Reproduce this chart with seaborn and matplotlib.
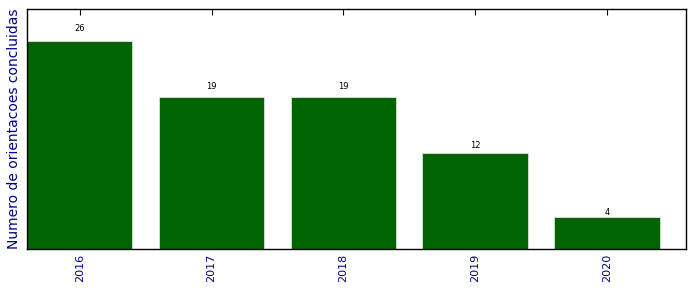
import matplotlib
matplotlib.use("Agg")
import matplotlib.pyplot as plt
import seaborn as sns
import pandas as pd

years = ["2016", "2017", "2018", "2019", "2020"]
counts = [26, 19, 19, 12, 4]

sns.set_style("white")
plt.rcParams['font.family'] = ['DejaVu Sans']

df = pd.DataFrame({"ano": years, "n": counts})

fig = plt.figure(figsize=(6.96, 2.92), dpi=100)
ax = fig.add_axes([27/696, 1 - 249/292, (686-27)/696, (249-9)/292])
sns.barplot(data=df, x="ano", y="n", color="#006400", saturation=1, width=0.8,
            edgecolor="#d8e8d8", linewidth=0.6, ax=ax)
for i, v in enumerate(counts):
    ax.text(i, v * 1.05, str(v), ha="center", va="baseline", fontsize=6, color="black")

ax.set_xlim(-0.4, 4.6)
ax.set_ylim(0, 30)
ax.set_yticks([])
ax.set_xlabel("")
ax.set_ylabel("Numero de orientacoes concluidas", color="darkblue", fontsize=10)
ax.tick_params(axis="x", direction="in", length=4, width=0.8, top=True, bottom=True,
               labelrotation=90, labelsize=8, labelcolor="darkblue", color="black")
for s in ax.spines.values():
    s.set_color("black")
    s.set_linewidth(1.0)
fig.savefig("out.png", dpi=100)
